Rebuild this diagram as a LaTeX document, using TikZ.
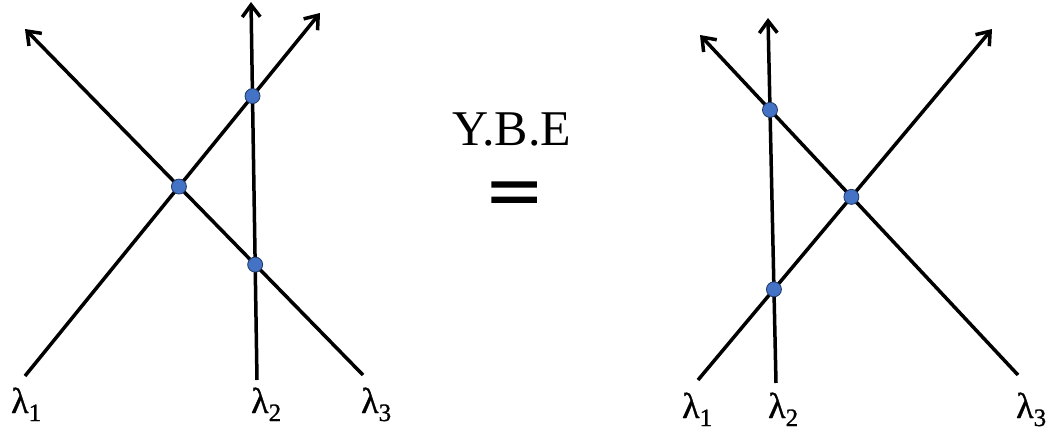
\documentclass[tikz,border=0pt]{standalone}
\usepackage{fontspec}
\setmainfont{Liberation Serif}
\newfontfamily\heavyfont[FakeBold=3]{Liberation Serif}
\newfontfamily\labfont[FakeBold=1]{Liberation Serif}
\usetikzlibrary{arrows.meta, positioning}

\definecolor{dotblue}{HTML}{4472C4}
\definecolor{dotline}{HTML}{1F3864}

% lambda with a lowered index
\newcommand{\lam}[1]{λ{\fontsize{25}{25}\selectfont\raisebox{-8pt}{#1}}}

\begin{document}
\begin{tikzpicture}[
    x=1pt, y=-1pt,
    >={Straight Barb[length=12pt, width=18pt]}, % open arrow heads
    strand/.style={line width=3.5pt, ->}, % the three lines
    vertex/.style={circle, fill=dotblue, draw=dotline, line width=0.8pt, inner sep=0pt, minimum size=15pt}, % blue points
    lab/.style={anchor=base west, inner sep=0pt, font=\labfont\fontsize{36}{38}\selectfont} % lambda labels
]
    \useasboundingbox (0,0) rectangle (1055,433);

    % Left side: ends of the lines
    \coordinate (la1) at (25,376);  \coordinate (lb1) at (320,13);
    \coordinate (la2) at (257,380); \coordinate (lb2) at (251,2);
    \coordinate (la3) at (363,375); \coordinate (lb3) at (25,29);

    % Left side: lines
    \draw[strand] (la1) -- (lb1);
    \draw[strand] (la3) -- (lb3);
    \draw[strand] (la2) -- (lb2);

    % Left side: crossings
    \node[vertex] (lx13) at (intersection of la1--lb1 and la3--lb3) {};
    \node[vertex] (lx12) at (intersection of la1--lb1 and la2--lb2) {};
    \node[vertex] (lx23) at (intersection of la2--lb2 and la3--lb3) {};

    % Left side: labels
    \node[lab] (ll1) at (11,413) {\lam{1}};
    \node[lab] (ll2) at (251,413) {\lam{2}};
    \node[lab] (ll3) at (361,413) {\lam{3}};

    % Middle
    \node[font=\fontsize{50}{52}\selectfont, inner sep=0pt] (ybe) at (512,129) {Y.B.E};
    \node[font=\heavyfont\fontsize{80}{80}\selectfont, inner sep=0pt] (eq) at (514,200) {\scalebox{1.15}[0.95]{=}};

    % Right side: ends of the lines
    \coordinate (ra1) at (698,380);  \coordinate (rb1) at (992,29);
    \coordinate (ra2) at (776,383);  \coordinate (rb2) at (768,18);
    \coordinate (ra3) at (1018,375); \coordinate (rb3) at (700,35);

    % Right side: lines
    \draw[strand] (ra1) -- (rb1);
    \draw[strand] (ra3) -- (rb3);
    \draw[strand] (ra2) -- (rb2);

    % Right side: crossings
    \node[vertex] (rx13) at (intersection of ra1--rb1 and ra3--rb3) {};
    \node[vertex] (rx12) at (intersection of ra1--rb1 and ra2--rb2) {};
    \node[vertex] (rx23) at (intersection of ra2--rb2 and ra3--rb3) {};

    % Right side: labels
    \node[lab] (rl1) at (682,418) {\lam{1}};
    \node[lab] (rl2) at (768,418) {\lam{2}};
    \node[lab] (rl3) at (1016,418) {\lam{3}};

\end{tikzpicture}
\end{document}
